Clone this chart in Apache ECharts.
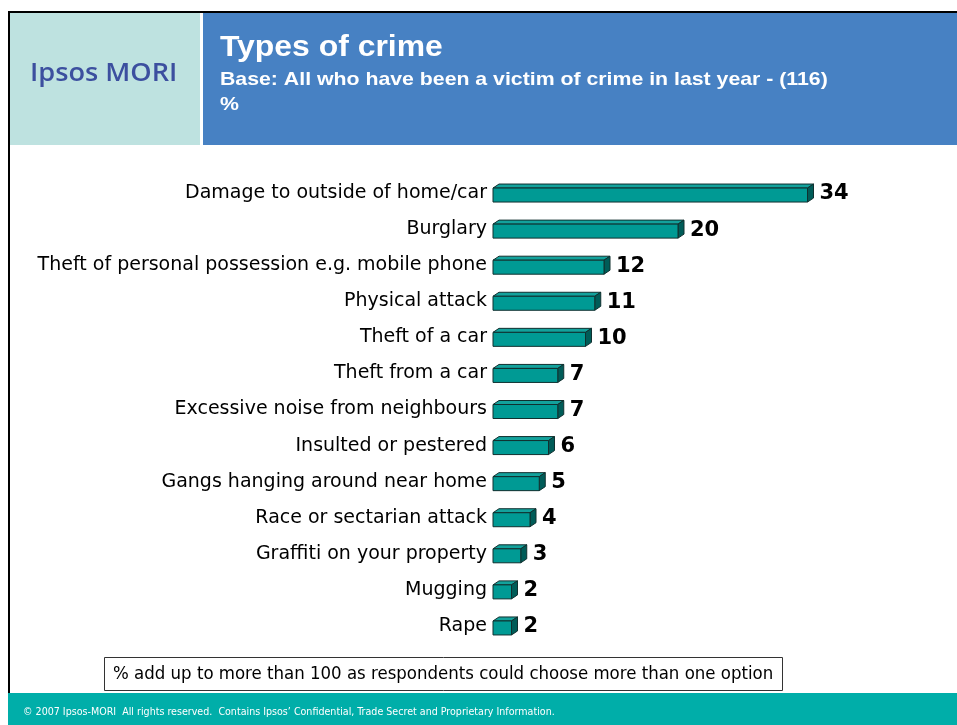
<!DOCTYPE html>
<html>
<head>
<meta charset="utf-8">
<title>Types of crime</title>
<script src="https://cdn.jsdelivr.net/npm/echarts@6/dist/echarts.min.js"></script>
<style>
  html, body { margin: 0; padding: 0; background: #ffffff; }
  #chart { width: 957px; height: 725px; }
</style>
</head>
<body>
<div id="chart"></div>
<script>
// Crime types reported by victims (percent of respondents)
const categories = [
  'Damage to outside of home/car',
  'Burglary',
  'Theft of personal possession e.g. mobile phone',
  'Physical attack',
  'Theft of a car',
  'Theft from a car',
  'Excessive noise from neighbours',
  'Insulted or pestered',
  'Gangs hanging around near home',
  'Race or sectarian attack',
  'Graffiti on your property',
  'Mugging',
  'Rape'
];
const percentages = [34, 20, 12, 11, 10, 7, 7, 6, 5, 4, 3, 2, 2];

const titleText = 'Types of crime';
const subtitleText = 'Base: All who have been a victim of crime in last year - (116)';
const unitText = '%';
const noteText = '% add up to more than 100 as respondents could choose more than one option';
const footerText = '\u00a9 2007 Ipsos-MORI  All rights reserved.  Contains Ipsos\u2019 Confidential, Trade Secret and Proprietary Information.';
const logoText = 'Ipsos MORI';

const chart = echarts.init(document.getElementById('chart'), null, { renderer: 'canvas' });

// Draws a bar as a box: front face, top face and right side face, plus its value
function renderBox(params, api) {
  const idx = api.value(1);
  const val = api.value(0);
  const start = api.coord([0, idx]);
  const end = api.coord([val, idx]);
  const cy = end[1];
  const x0 = start[0];
  const x1 = end[0];
  const dx = 6, dy = 4;
  const top = cy - 5, bottom = cy + 9;
  const stroke = '#10302f';
  return {
    type: 'group',
    children: [
      {
        type: 'polygon',
        shape: { points: [[x0, top], [x0 + dx, top - dy], [x1 + dx, top - dy], [x1, top]] },
        style: { fill: '#13a29c', stroke: stroke, lineWidth: 1 }
      },
      {
        type: 'polygon',
        shape: { points: [[x1, top], [x1 + dx, top - dy], [x1 + dx, bottom - dy], [x1, bottom]] },
        style: { fill: '#005c58', stroke: stroke, lineWidth: 1 }
      },
      {
        type: 'rect',
        shape: { x: x0, y: top, width: x1 - x0, height: bottom - top },
        style: { fill: '#009a94', stroke: stroke, lineWidth: 1 }
      },
      {
        type: 'text',
        style: {
          text: String(val),
          x: x1 + dx + 6,
          y: cy + 1,
          fill: '#000000',
          font: 'bold 21px "DejaVu Sans", Verdana, sans-serif',
          verticalAlign: 'middle',
          align: 'left'
        }
      }
    ]
  };
}

// Text placed by its left edge and vertical centre, optionally widened
function label(text, x, y, font, fill, sx) {
  return {
    type: 'text',
    x: x,
    y: y,
    scaleX: sx || 1,
    style: { text: text, x: 0, y: 0, fill: fill, font: font, align: 'left', verticalAlign: 'middle' }
  };
}

const option = {
  animation: false,
  backgroundColor: '#ffffff',
  grid: { left: 493, right: 94, top: 175, bottom: 81, containLabel: false },
  xAxis: {
    type: 'value',
    min: 0,
    max: 40,
    show: false
  },
  yAxis: {
    type: 'category',
    data: categories,
    inverse: true,
    axisLine: { show: false },
    axisTick: { show: false },
    splitLine: { show: false },
    axisLabel: {
      color: '#000000',
      fontSize: 19,
      fontFamily: '"DejaVu Sans", Verdana, sans-serif',
      margin: 6
    }
  },
  series: [{
    type: 'custom',
    renderItem: renderBox,
    encode: { x: 0, y: 1 },
    data: percentages.map((v, i) => [v, i]),
    clip: false
  }],
  graphic: [
    // frame lines
    { type: 'rect', shape: { x: 8, y: 11, width: 949, height: 2 }, style: { fill: '#000000' } },
    { type: 'rect', shape: { x: 8, y: 11, width: 2, height: 682 }, style: { fill: '#000000' } },
    // logo panel
    { type: 'rect', shape: { x: 10, y: 13, width: 190, height: 132 }, style: { fill: '#bee2e0' } },
    label(logoText, 30, 74, '600 25.5px "Open Sans", "DejaVu Sans", sans-serif', '#3c4f9f', 1.065),
    // title panel
    { type: 'rect', shape: { x: 203, y: 13, width: 754, height: 132 }, style: { fill: '#4781c3' } },
    label(titleText, 220, 48, 'bold 29px "Liberation Sans", Arial, sans-serif', '#ffffff', 1.10),
    label(subtitleText, 220, 80, 'bold 18.5px "Liberation Sans", Arial, sans-serif', '#ffffff', 1.15),
    label(unitText, 220, 105, 'bold 18.5px "Liberation Sans", Arial, sans-serif', '#ffffff', 1.15),
    // note box
    {
      type: 'rect', shape: { x: 104.5, y: 657.5, width: 678, height: 33 },
      style: { fill: '#ffffff', stroke: '#333333', lineWidth: 1 }
    },
    label(noteText, 113, 675, '17px "DejaVu Sans Condensed", "DejaVu Sans", sans-serif', '#000000', 1.085),
    // footer strip
    { type: 'rect', shape: { x: 8, y: 693, width: 949, height: 32 }, style: { fill: '#00aea9' } },
    label(footerText, 23, 712, '10px "DejaVu Sans Condensed", "DejaVu Sans", sans-serif', '#ffffff', 1.06)
  ]
};

chart.setOption(option);
</script>
</body>
</html>
